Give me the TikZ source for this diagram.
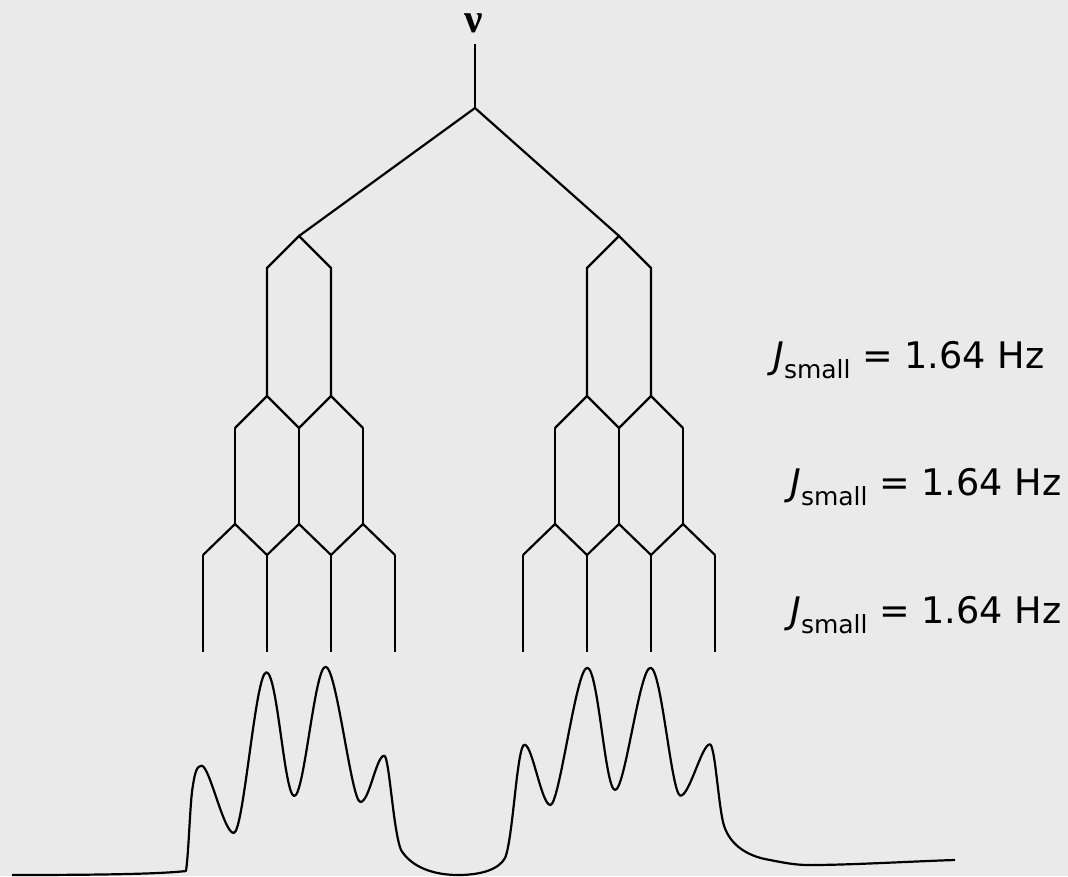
\documentclass[tikz,border=0pt]{standalone}
\usepackage{fontspec}
\setmainfont{DejaVu Sans}
\newfontfamily\nufont{Liberation Serif}
\definecolor{bg}{RGB}{234,234,234}
\newcommand{\jlabel}{\textit{J}\raisebox{-10pt}{\fontsize{25}{25}\selectfont small} = 1.64 Hz}
\begin{document}
\begin{tikzpicture}[x=1pt,y=-1pt,
  tree/.style={draw=black, line width=2.2pt, line join=miter},
  spec/.style={draw=black, line width=2.2pt, line join=round},
  lab/.style={anchor=base west, inner sep=0pt, font=\fontsize{36.6}{40}\selectfont},
  nustyle/.style={anchor=base, inner sep=0pt, font=\fontsize{41}{44}\selectfont\nufont\bfseries}]
\fill[bg] (0,0) rectangle (1068,876);
\useasboundingbox (0,0) rectangle (1068,876);

\node[nustyle] (nu) at (473.5,32) {ν};
\coordinate (top) at (475,44);
\coordinate (root) at (475,108);

\foreach \g/\dx in {L/0,R/320}{
  \begin{scope}[xshift=\dx]
    \coordinate (\g0) at (299,236);
    \coordinate (\g1a) at (267,268); \coordinate (\g1b) at (331,268);
    \coordinate (\g2a) at (267,396); \coordinate (\g2b) at (331,396);
    \coordinate (\g3a) at (235,428); \coordinate (\g3b) at (299,428); \coordinate (\g3c) at (363,428);
    \coordinate (\g4a) at (235,524); \coordinate (\g4b) at (299,524); \coordinate (\g4c) at (363,524);
    \coordinate (\g5a) at (203,555); \coordinate (\g5b) at (267,555);
    \coordinate (\g5c) at (331,555); \coordinate (\g5d) at (395,555);
    \coordinate (\g6a) at (203,652); \coordinate (\g6b) at (267,652);
    \coordinate (\g6c) at (331,652); \coordinate (\g6d) at (395,652);
  \end{scope}
  \draw[tree] (\g2a) -- (\g1a) -- (\g0) -- (\g1b) -- (\g2b);
  \draw[tree] (\g3a) -- (\g2a) -- (\g3b) -- (\g2b) -- (\g3c);
  \draw[tree] (\g3a) -- (\g4a);
  \draw[tree] (\g3b) -- (\g4b);
  \draw[tree] (\g3c) -- (\g4c);
  \draw[tree] (\g5a) -- (\g4a) -- (\g5b) -- (\g4b) -- (\g5c) -- (\g4c) -- (\g5d);
  \draw[tree] (\g5a) -- (\g6a);
  \draw[tree] (\g5b) -- (\g6b);
  \draw[tree] (\g5c) -- (\g6c);
  \draw[tree] (\g5d) -- (\g6d);
}
\draw[tree] (top) -- (root);
\draw[tree] (L0) -- (root) -- (R0);

\node[lab] (j1) at (773,368) {\jlabel};
\node[lab] (j2) at (790,495) {\jlabel};
\node[lab] (j3) at (790,623) {\jlabel};

\coordinate (s0) at (12,875);
\coordinate (s1) at (186,871);
\coordinate (p1) at (201.6,765.7);
\coordinate (v1) at (233.7,833);
\coordinate (p2) at (266.4,672.3);
\coordinate (v2) at (294.3,796);
\coordinate (p3) at (325.6,666.7);
\coordinate (v3) at (360.4,802);
\coordinate (p4) at (384.2,755.7);
\coordinate (m1) at (458,875);
\coordinate (p5) at (524.5,744.7);
\coordinate (v5) at (550.4,805);
\coordinate (p6) at (587.2,667.7);
\coordinate (v6) at (615.1,790);
\coordinate (p7) at (650.5,667.7);
\coordinate (v7) at (680.5,795.7);
\coordinate (p8) at (709.8,744.3);
\coordinate (m2) at (817,865);
\coordinate (s9) at (955,860);

\draw[spec] (s0) .. controls (100,875) and (160,874) .. (s1)
  .. controls (189,850) and (190,800) .. (193,785)
  .. controls (195,772) and (197,765.7) .. (p1)
  .. controls +(8,0) and +(-10,0) .. (v1)
  .. controls +(10,0) and +(-11,0) .. (p2)
  .. controls +(11,0) and +(-10,0) .. (v2)
  .. controls +(10,0) and +(-11,0) .. (p3)
  .. controls +(11,0) and +(-9,0) .. (v3)
  .. controls +(9,0) and +(-8,0) .. (p4)
  .. controls +(5,0) and (393,830) .. (401,850)
  .. controls (412,868) and (435,875) .. (m1)
  .. controls (482,875) and (499,869) .. (505,858)
  .. controls (513,840) and (517,744.7) .. (p5)
  .. controls +(8,0) and +(-9,0) .. (v5)
  .. controls +(9,0) and +(-11,0) .. (p6)
  .. controls +(11,0) and +(-10,0) .. (v6)
  .. controls +(10,0) and +(-11,0) .. (p7)
  .. controls +(11,0) and +(-9,0) .. (v7)
  .. controls +(9,0) and +(-8,0) .. (p8)
  .. controls +(5,0) and (718,800) .. (723,822)
  .. controls (728,843) and (745,856) .. (770,860)
  .. controls (790,864) and (800,865.5) .. (m2)
  .. controls (860,864.5) and (920,861) .. (s9);
\end{tikzpicture}
\end{document}
